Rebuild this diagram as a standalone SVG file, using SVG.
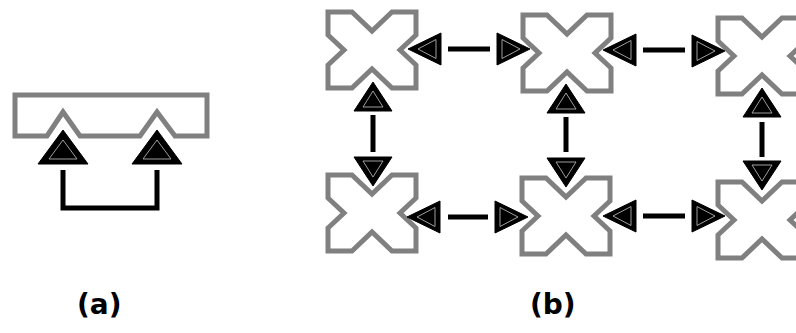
<svg xmlns="http://www.w3.org/2000/svg" xmlns:xlink="http://www.w3.org/1999/xlink" width="796" height="333" viewBox="0 0 796 333">
<style>
.shape{fill:#fff;stroke:#808080;stroke-width:5;stroke-linejoin:miter}
.ln{fill:none;stroke:#000;stroke-width:5}
.ah{fill:#000;stroke:#000;stroke-width:1;stroke-linejoin:round}
.ahi{fill:none;stroke:#b0b0b0;stroke-width:0.9}
.lbl{font-family:"DejaVu Sans",sans-serif;font-weight:bold;font-size:28px;fill:#000}
</style>
<defs>
<path id="xs" class="shape" d="M -44,-38 L -20,-38 L 0,-19 L 20,-38 L 44,-38 L 44,-15 L 28,0 L 44,15 L 44,38 L 20,38 L 0,19 L -20,38 L -44,38 L -44,15 L -28,0 L -44,-15 Z"/>
<g id="ahH"><polygon class="ah" points="0,0 -33,-16 -33,16"/><polygon class="ahi" points="-10,0 -28,-9.5 -28,9.5"/></g>
<g id="ahV"><polygon class="ah" points="0,0 -19,29 19,29"/><polygon class="ahi" points="0,9 -10,25 10,25"/></g>
<g id="ahA"><polygon class="ah" points="0,0 -25,34 25,34"/><polygon class="ahi" points="0,10 -14,29 14,29"/></g>
</defs>

<g id="a-node">
<path class="shape" d="M 15,95 L 207,95 L 207,136 L 175,136 L 157,112 L 140,136 L 80,136 L 63,112 L 47,136 L 15,136 Z"/>
</g>
<g id="a-connectors">
<polyline class="ln" points="63,170 63,208 157,208 157,170"/>
<use xlink:href="#ahA" transform="translate(63,130)"/>
<use xlink:href="#ahA" transform="translate(157,130)"/>
</g>

<g id="n1" transform="translate(372,50)"><use xlink:href="#xs"/></g>
<g id="n2" transform="translate(567,53)"><use xlink:href="#xs"/></g>
<g id="n3" transform="translate(762,56)"><use xlink:href="#xs"/></g>
<g id="n4" transform="translate(372,213)"><use xlink:href="#xs"/></g>
<g id="n5" transform="translate(566,216)"><use xlink:href="#xs"/></g>
<g id="n6" transform="translate(762,220)"><use xlink:href="#xs"/></g>

<g id="connectors">
<line class="ln" x1="448" y1="49" x2="490" y2="49"/>
<use xlink:href="#ahH" transform="translate(408,49) rotate(180)"/>
<use xlink:href="#ahH" transform="translate(530,49)"/>

<line class="ln" x1="643" y1="50" x2="685" y2="50"/>
<use xlink:href="#ahH" transform="translate(603,50) rotate(180)"/>
<use xlink:href="#ahH" transform="translate(725,51)"/>

<line class="ln" x1="448" y1="217" x2="488" y2="217"/>
<use xlink:href="#ahH" transform="translate(407,217) rotate(180)"/>
<use xlink:href="#ahH" transform="translate(528,217)"/>

<line class="ln" x1="643" y1="216" x2="685" y2="216"/>
<use xlink:href="#ahH" transform="translate(603,216) rotate(180)"/>
<use xlink:href="#ahH" transform="translate(725,216)"/>

<line class="ln" x1="373" y1="115" x2="373" y2="152"/>
<use xlink:href="#ahV" transform="translate(373,82)"/>
<use xlink:href="#ahV" transform="translate(373,186) rotate(180)"/>

<line class="ln" x1="566" y1="117" x2="566" y2="152"/>
<use xlink:href="#ahV" transform="translate(566,84)"/>
<use xlink:href="#ahV" transform="translate(566,187) rotate(180)"/>

<line class="ln" x1="762" y1="122" x2="762" y2="157"/>
<use xlink:href="#ahV" transform="translate(762,88)"/>
<use xlink:href="#ahV" transform="translate(762,190) rotate(180)"/>
</g>

<text class="lbl" x="77" y="314">(a)</text>
<text class="lbl" x="530" y="314">(b)</text>
</svg>
